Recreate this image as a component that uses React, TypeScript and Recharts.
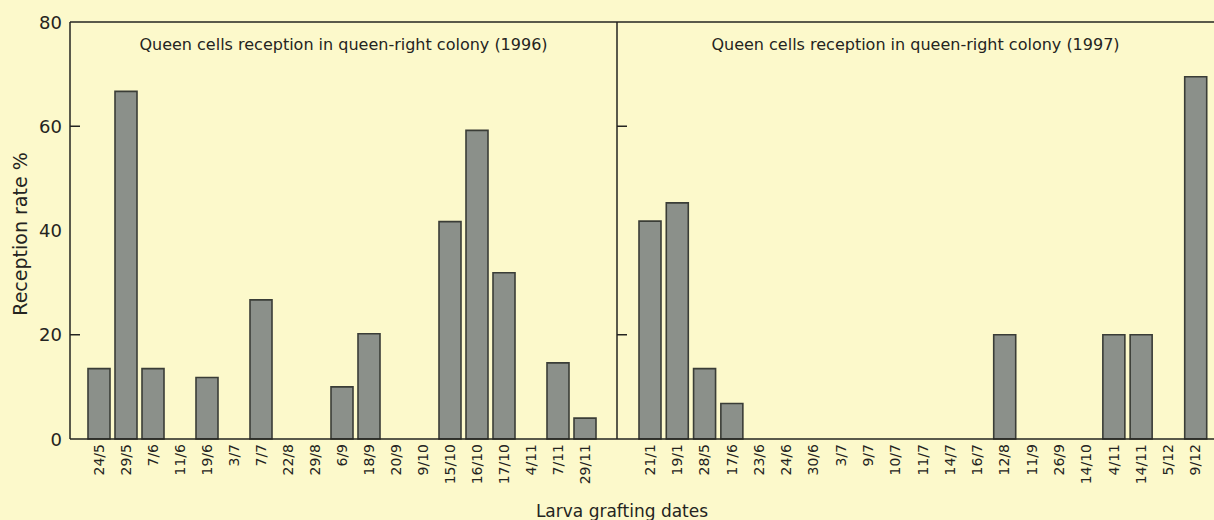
import { BarChart, Bar, XAxis, YAxis, ReferenceLine, Label } from 'recharts';

const dates1996 = ['24/5', '29/5', '7/6', '11/6', '19/6', '3/7', '7/7', '22/8', '29/8', '6/9', '18/9', '20/9', '9/10', '15/10', '16/10', '17/10', '4/11', '7/11', '29/11'];
const rates1996 = [13.5, 66.7, 13.5, 0, 11.8, 0, 26.7, 0, 0, 10, 20.2, 0, 0, 41.7, 59.2, 31.9, 0, 14.6, 4];

const dates1997 = ['21/1', '19/1', '28/5', '17/6', '23/6', '24/6', '30/6', '3/7', '9/7', '10/7', '11/7', '14/7', '16/7', '12/8', '11/9', '26/9', '14/10', '4/11', '14/11', '5/12', '9/12'];
const rates1997 = [41.8, 45.3, 13.5, 6.8, 0, 0, 0, 0, 0, 0, 0, 0, 0, 20, 0, 0, 0, 20, 20, 0, 69.5];

const yTicks = [0, 20, 40, 60, 80];
const tickMarks = [20, 60];

const data1996 = dates1996.map((d, i) => ({ date: d, rate: rates1996[i] }));
const data1997 = dates1997.map((d, i) => ({ date: d, rate: rates1997[i] }));

const FONT = '"DejaVu Sans", sans-serif';
const INK = '#242421';
const BG = '#fcf9cb';

const DateTick = (props: any) => {
  const { x, y, payload } = props;
  return (
    <text
      x={x}
      y={y + 5}
      transform={`rotate(-90 ${x} ${y + 5})`}
      textAnchor="end"
      dominantBaseline="central"
      fontFamily={FONT}
      fontSize={14}
      fill={INK}
    >
      {payload.value}
    </text>
  );
};

// y tick: optional label left of the axis, short tick mark pointing into the plot
const RateTick = (props: any) => {
  const { x, y, payload, showLabel } = props;
  const v = Number(payload.value);
  return (
    <g>
      {tickMarks.indexOf(v) >= 0 && <path d={`M${x},${y}h10`} stroke={INK} strokeWidth={1.5} fill="none" />}
      {showLabel && (
        <text x={x - 8} y={y} textAnchor="end" dominantBaseline="central" fontFamily={FONT} fontSize={18} fill={INK}>
          {payload.value}
        </text>
      )}
    </g>
  );
};

function Panel(props: { data: any[]; title: string; left: number; right: number; width: number; pad: { left: number; right: number }; main?: boolean }) {
  return (
    <BarChart
      width={1214}
      height={520}
      data={props.data}
      margin={{ top: 22, right: props.right, bottom: 0, left: props.left }}
      style={{ position: 'absolute', left: 0, top: 0 }}
    >
      <XAxis
        dataKey="date"
        height={81}
        interval={0}
        padding={props.pad}
        tick={<DateTick />}
        tickLine={false}
        tickSize={0}
        tickMargin={0}
        axisLine={{ stroke: INK, strokeWidth: 1.5 }}
      >
        {props.main && (
          <Label
            content={() => (
              <text x={622} y={511} textAnchor="middle" dominantBaseline="central" fontFamily={FONT} fontSize={17} fill={INK}>
                Larva grafting dates
              </text>
            )}
          />
        )}
      </XAxis>
      <YAxis
        width={props.width}
        domain={[0, 80]}
        ticks={yTicks}
        tick={<RateTick showLabel={!!props.main} />}
        tickLine={false}
        tickSize={0}
        tickMargin={0}
        axisLine={{ stroke: INK, strokeWidth: 1.5 }}
      >
        {props.main && (
          <Label
            content={() => (
              <text
                x={20}
                y={234}
                transform="rotate(-90 20 234)"
                textAnchor="middle"
                dominantBaseline="central"
                fontFamily={FONT}
                fontSize={19}
                fill={INK}
              >
                Reception rate %
              </text>
            )}
          />
        )}
      </YAxis>
      <ReferenceLine
        y={80}
        stroke={INK}
        strokeWidth={1.5}
        label={{ value: props.title, position: 'insideTop', offset: 17, fontFamily: FONT, fontSize: 16, fill: INK }}
      />
      <Bar dataKey="rate" fill="#8b908a" stroke="#3a3d37" strokeWidth={1.6} barSize={22} isAnimationActive={false} />
    </BarChart>
  );
}

export default function App() {
  return (
    <div style={{ position: 'absolute', left: 0, top: 0, width: 1214, height: 520, background: BG, overflow: 'hidden' }}>
      <Panel
        data={data1996}
        title="Queen cells reception in queen-right colony (1996)"
        left={0}
        right={597}
        width={70}
        pad={{ left: 15, right: 19 }}
        main
      />
      <Panel
        data={data1997}
        title="Queen cells reception in queen-right colony (1997)"
        left={616}
        right={0}
        width={1}
        pad={{ left: 19, right: 5 }}
      />
    </div>
  );
}
